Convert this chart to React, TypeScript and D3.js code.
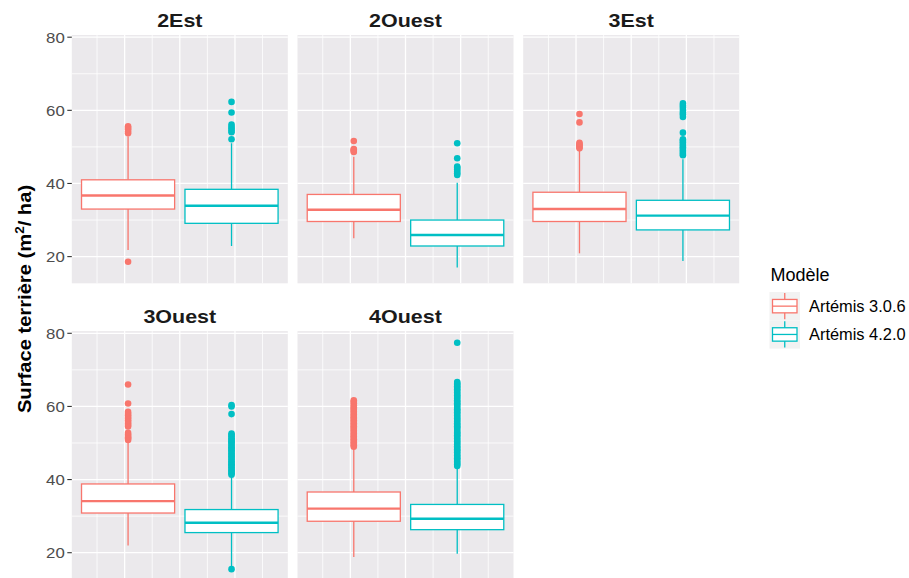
import React from "react";
import * as d3 from "d3";

// Facets (regions) and the two model versions compared in each
const regions = ["2Est", "2Ouest", "3Est", "3Ouest", "4Ouest"];
const models = ["Artémis 3.0.6", "Artémis 4.2.0"];
const modelColors = ["#F8766D", "#00BFC4"];

// Box statistics, Artémis 3.0.6 (one value per region)
const whiskerLow306 = [21.8, 25.0, 20.9, 22.0, 18.8];
const q1_306 = [33.0, 29.6, 29.6, 30.85, 28.6];
const median306 = [36.7, 32.8, 33.0, 34.1, 32.05];
const q3_306 = [41.0, 37.0, 37.6, 38.8, 36.6];
const whiskerHigh306 = [52.8, 47.3, 49.3, 50.4, 48.5];
const outliers306 = [
  [18.6, 53.7, 54.2, 54.8, 55.2, 55.6],
  [48.6, 48.9, 49.2, 49.4, 51.6],
  [49.6, 50.0, 50.4, 50.8, 51.1, 56.7, 59.0],
  [50.8, 51.2, 51.5, 51.9, 52.3, 52.8, 54.5, 54.9, 55.3, 55.8, 56.2, 56.7, 57.1, 57.6, 58.0, 58.5, 60.8, 66.0],
  [49.0, 49.4, 49.8, 50.2, 50.6, 51.0, 51.4, 51.8, 52.2, 52.6, 53.0, 53.4, 53.8, 54.2, 54.6, 55.0, 55.4, 55.8,
    56.2, 56.6, 57.0, 57.4, 57.8, 58.2, 58.6, 59.0, 59.4, 59.8, 60.3, 60.9, 61.3, 61.7],
];

// Box statistics, Artémis 4.2.0
const whiskerLow420 = [22.9, 17.0, 18.8, 16.1, 19.7];
const q1_420 = [29.1, 22.9, 27.3, 25.5, 26.3];
const median420 = [33.9, 25.9, 31.2, 28.2, 29.3];
const q3_420 = [38.4, 30.0, 35.4, 31.8, 33.2];
const whiskerHigh420 = [51.0, 40.2, 46.6, 41.0, 43.2];
const outliers420 = [
  [52.1, 54.0, 54.5, 55.0, 55.5, 56.1, 59.4, 62.3],
  [42.3, 42.8, 43.3, 43.8, 44.3, 44.6, 46.9, 51.0],
  [47.7, 48.1, 48.6, 49.0, 49.5, 49.9, 50.4, 50.8, 51.3, 51.7, 52.1, 53.9, 58.2, 58.9, 59.4, 60.1, 60.8, 61.3, 61.9],
  [15.5, 41.3, 41.7, 42.1, 42.5, 42.9, 43.4, 43.8, 44.2, 44.6, 45.0, 45.5, 45.9, 46.3, 46.7, 47.1, 47.6, 48.0,
    48.4, 48.8, 49.2, 49.7, 50.1, 50.5, 50.9, 51.3, 51.8, 52.2, 52.6, 57.9, 60.0, 60.4],
  [43.7, 44.1, 44.5, 44.9, 45.4, 45.8, 46.2, 46.6, 47.0, 47.5, 47.9, 48.3, 48.7, 49.1, 49.6, 50.0, 50.4, 50.8,
    51.2, 51.7, 52.1, 52.5, 52.9, 53.3, 53.8, 54.2, 54.6, 55.0, 55.4, 55.9, 56.3, 56.7, 57.1, 57.5, 58.0, 58.4,
    58.8, 59.2, 59.6, 60.1, 60.5, 60.9, 61.3, 61.7, 62.2, 62.6, 63.0, 63.4, 63.8, 64.3, 64.7, 65.1, 65.5, 65.9,
    66.3, 66.7, 77.4],
];

// Axis breaks
const yMajorTicks = [20, 40, 60, 80];
const yMinorTicks = [30, 50, 70];
const xMajorTicks = [0.8, 1.0, 1.2];
const xMinorTicks = [0.7, 0.9, 1.1, 1.3];

const W = 909;
const H = 578;
const FONT = "'Liberation Sans', Arial, sans-serif";

const panelW = 216;
const panelH = 248.3;
const panelLeft0 = 71.8;
const panelStep = 225.7;
const rowTops = [35, 331.1];
const nCols = 3;

const panelBg = "#EBE9EC";

type Stats = { lo: number; q1: number; med: number; q3: number; hi: number; out: number[] };

const seriesStats = (i: number): Stats[] => [
  { lo: whiskerLow306[i], q1: q1_306[i], med: median306[i], q3: q3_306[i], hi: whiskerHigh306[i], out: outliers306[i] },
  { lo: whiskerLow420[i], q1: q1_420[i], med: median420[i], q3: q3_420[i], hi: whiskerHigh420[i], out: outliers420[i] },
];

function SText(props: {
  x: number; y: number; sx?: number; rotate?: number; anchor?: string; size: number;
  weight?: string | number; fill?: string; dy?: string; children: React.ReactNode;
}) {
  const { x, y, sx = 1, rotate = 0, anchor = "start", size, weight = "normal", fill = "#000", dy, children } = props;
  return (
    <text
      transform={`translate(${x},${y}) rotate(${rotate}) scale(${sx},1)`}
      textAnchor={anchor}
      fontFamily={FONT}
      fontSize={size}
      fontWeight={weight}
      fill={fill}
      dy={dy}
    >
      {children}
    </text>
  );
}

function Panel({ index }: { index: number }) {
  const col = index % nCols;
  const row = Math.floor(index / nCols);
  const left = panelLeft0 + col * panelStep;
  const top = rowTops[row];

  const x = d3.scaleLinear().domain([0.6085, 1.3915]).range([0, panelW]);
  const y = d3.scaleLinear().domain([12.7, 80.6]).range([panelH, 0]);
  const dodge = 0.1875;
  const halfBox = 0.16875;
  const centers = [1 - dodge, 1 + dodge];
  const stats = seriesStats(index);

  return (
    <g>
      <SText x={left + panelW / 2} y={top - 8} sx={1.13} anchor="middle" size={19} weight="bold" fill="#1A1A1A">
        {regions[index]}
      </SText>
      <g transform={`translate(${left},${top})`}>
        <rect x={0} y={0} width={panelW} height={panelH} fill={panelBg} />
        {yMinorTicks.map((v) => (
          <line key={`ym${v}`} x1={0} x2={panelW} y1={y(v)} y2={y(v)} stroke="#FFFFFF" strokeWidth={0.8} />
        ))}
        {xMinorTicks.map((v) => (
          <line key={`xm${v}`} x1={x(v)} x2={x(v)} y1={0} y2={panelH} stroke="#FFFFFF" strokeWidth={0.8} />
        ))}
        {yMajorTicks.map((v) => (
          <line key={`yM${v}`} x1={0} x2={panelW} y1={y(v)} y2={y(v)} stroke="#FFFFFF" strokeWidth={1.3} />
        ))}
        {xMajorTicks.map((v) => (
          <line key={`xM${v}`} x1={x(v)} x2={x(v)} y1={0} y2={panelH} stroke="#FFFFFF" strokeWidth={1.3} />
        ))}
        {stats.map((s, k) => {
          const cx = x(centers[k]);
          const x0 = x(centers[k] - halfBox);
          const x1 = x(centers[k] + halfBox);
          const color = modelColors[k];
          return (
            <g key={k}>
              <line x1={cx} x2={cx} y1={y(s.q3)} y2={y(s.hi)} stroke={color} strokeWidth={1.3} />
              <line x1={cx} x2={cx} y1={y(s.q1)} y2={y(s.lo)} stroke={color} strokeWidth={1.3} />
              <rect x={x0} y={y(s.q3)} width={x1 - x0} height={y(s.q1) - y(s.q3)} fill="#FFFFFF" stroke={color} strokeWidth={1.3} />
              <line x1={x0} x2={x1} y1={y(s.med)} y2={y(s.med)} stroke={color} strokeWidth={2.4} />
              {s.out.map((v, j) => (
                <circle key={j} cx={cx} cy={y(v)} r={3.3} fill={color} />
              ))}
            </g>
          );
        })}
      </g>
      {col === 0 &&
        yMajorTicks.map((v) => (
          <g key={`t${v}`}>
            <line x1={left - 4.5} x2={left} y1={top + y(v)} y2={top + y(v)} stroke="#333333" strokeWidth={1.1} />
            <SText x={left - 7} y={top + y(v)} dy="0.36em" sx={1.12} anchor="end" size={15} fill="#4D4D4D">
              {v}
            </SText>
          </g>
        ))}
    </g>
  );
}

function Legend() {
  const lx = 769.5;
  const keyTop = 292;
  const keyH = 28.3;
  const keyW = 30.5;
  return (
    <g>
      <text x={770.5} y={281} fontFamily={FONT} fontSize={18} fill="#000">
        Modèle
      </text>
      {models.map((m, k) => {
        const ky = keyTop + k * keyH;
        const cy = ky + keyH / 2;
        const cx = lx + keyW / 2;
        const color = modelColors[k];
        return (
          <g key={m}>
            <rect x={lx} y={ky} width={keyW} height={keyH} fill="#F2F2F2" />
            <line x1={cx} x2={cx} y1={ky + 1} y2={ky + keyH - 1} stroke={color} strokeWidth={1.3} />
            <rect x={lx + 3} y={cy - 6.7} width={keyW - 6} height={13.4} fill="#FFFFFF" stroke={color} strokeWidth={1.3} />
            <line x1={lx + 3} x2={lx + keyW - 3} y1={cy} y2={cy} stroke={color} strokeWidth={1.3} />
            <text x={809} y={cy} dy="0.36em" fontFamily={FONT} fontSize={16.4} fill="#000">
              {m}
            </text>
          </g>
        );
      })}
    </g>
  );
}

export default function App() {
  return (
    <div style={{ position: "absolute", left: 0, top: 0 }}>
      <svg width={W} height={H} viewBox={`0 0 ${W} ${H}`} style={{ display: "block", background: "#FFFFFF" }}>
        <rect x={0} y={0} width={W} height={H} fill="#FFFFFF" />
        {regions.map((r, i) => (
          <Panel key={r} index={i} />
        ))}
        <SText x={30.5} y={299} rotate={-90} sx={1.12} anchor="middle" size={18} weight="bold">
          Surface terrière (m
          <tspan fontSize={12} dy={-7}>2</tspan>
          <tspan dy={7}>/ ha)</tspan>
        </SText>
        <Legend />
      </svg>
    </div>
  );
}
